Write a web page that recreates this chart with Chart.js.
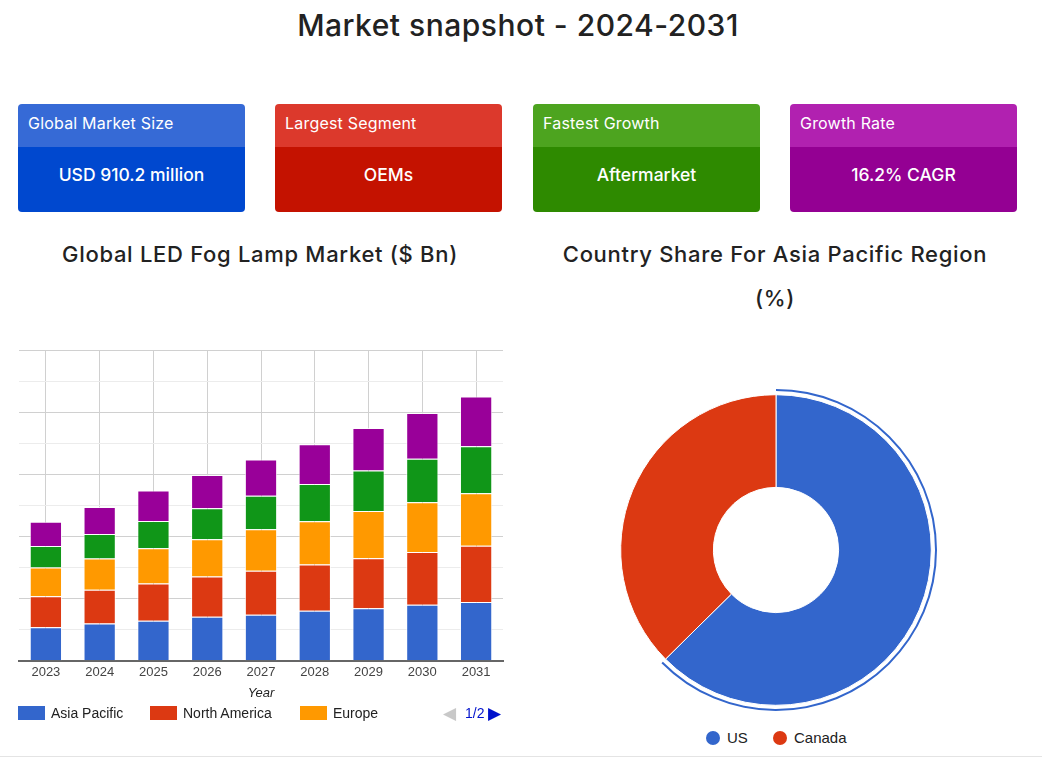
<!DOCTYPE html>
<html lang="en">
<head>
  <meta charset="UTF-8">
  <title>Market snapshot - 2024-2031</title>
  <script src="https://cdn.jsdelivr.net/npm/chart.js"></script>
  <style>
    body { margin: 0; width: 1042px; height: 760px; position: relative; background: #fff; font-family: Inter, "Open Sans", sans-serif; color: #222; overflow: hidden; }
    h1 { position: absolute; top: 7px; left: 0; width: 1036px; margin: 0; text-align: center; font-size: 30px; font-weight: 500; letter-spacing: 0.5px; }
    .card { position: absolute; top: 104px; width: 227px; height: 108px; border-radius: 4px; overflow: hidden; color: #fff; }
    .card .head { height: 43px; line-height: 38px; padding-left: 10px; font-size: 16px; letter-spacing: 0.2px; }
    .card .body { height: 65px; line-height: 56px; text-align: center; font-size: 17.5px; font-weight: 500; }
    .ctitle { position: absolute; text-align: center; font-size: 22px; font-weight: 500; line-height: 44px; letter-spacing: 0.7px; }
    .box { position: absolute; }
    .legend { position: absolute; font-family: "Liberation Sans", Arial, sans-serif; color: #222; }
    .legend span { position: absolute; white-space: nowrap; }
    .sw { position: absolute; width: 27px; height: 14px; }
    .dot { position: absolute; width: 14px; height: 14px; border-radius: 50%; }
    .footer { position: absolute; left: 0; top: 756px; width: 1042px; border-top: 1px solid #e4e4e4; }
  </style>
</head>
<body>
  <h1>Market snapshot - 2024-2031</h1>

  <div class="card" style="left:18px"><div class="head" style="background:#366ad6">Global Market Size</div><div class="body" style="background:#0048cf">USD 910.2 million</div></div>
  <div class="card" style="left:275px"><div class="head" style="background:#dc392c">Largest Segment</div><div class="body" style="background:#c41200">OEMs</div></div>
  <div class="card" style="left:533px"><div class="head" style="background:#4da41f">Fastest Growth</div><div class="body" style="background:#2e8a00">Aftermarket</div></div>
  <div class="card" style="left:790px"><div class="head" style="background:#b121b0">Growth Rate</div><div class="body" style="background:#940093">16.2% CAGR</div></div>

  <div class="ctitle" style="left:0; top:232px; width:520px">Global LED Fog Lamp Market ($ Bn)</div>
  <div class="ctitle" style="left:530px; top:232px; width:490px">Country Share For Asia Pacific Region<br>(%)</div>

  <div class="box" style="left:0; top:340px; width:515px; height:365px"><canvas id="barChart"></canvas></div>
  <div class="legend" id="barLegend" style="left:0; top:704px; width:515px; height:18px; font-size:14px"></div>

  <div class="box" style="left:520px; top:380px; width:512px; height:340px"><canvas id="pieChart"></canvas></div>
  <div class="legend" id="pieLegend" style="left:520px; top:729px; width:512px; height:18px; font-size:15px"></div>
  <div class="footer"></div>

  <script>
    // bar chart data
    const years = ['2023', '2024', '2025', '2026', '2027', '2028', '2029', '2030', '2031'];
    const asiaPacific = [0.108, 0.120, 0.129, 0.142, 0.148, 0.161, 0.169, 0.180, 0.189];
    const northAmerica = [0.100, 0.109, 0.120, 0.129, 0.142, 0.149, 0.161, 0.170, 0.181];
    const europe = [0.092, 0.100, 0.113, 0.120, 0.133, 0.139, 0.152, 0.160, 0.169];
    const latinAmerica = [0.069, 0.079, 0.088, 0.100, 0.108, 0.120, 0.130, 0.140, 0.151];
    const middleEastAfrica = [0.078, 0.087, 0.098, 0.107, 0.117, 0.128, 0.137, 0.147, 0.160];
    const regionNames = ['Asia Pacific', 'North America', 'Europe', 'Latin America', 'Middle East & Africa'];
    const regionColors = ['#3366cc', '#dc3912', '#ff9900', '#109618', '#990099'];

    // doughnut data
    const countries = ['US', 'Canada'];
    const countryShare = [62.6, 37.4];
    const countryColors = ['#3366cc', '#dc3912'];

    const tickFont = { family: '"Liberation Sans", Arial, sans-serif', size: 13 };

    const regionValues = [asiaPacific, northAmerica, europe, latinAmerica, middleEastAfrica];
    new Chart(document.getElementById('barChart'), {
      type: 'bar',
      data: {
        labels: years,
        datasets: regionValues.map((vals, i) => ({
          label: regionNames[i],
          data: vals,
          backgroundColor: regionColors[i],
          borderColor: 'rgba(255,255,255,0.75)',
          borderWidth: 1,
          barPercentage: 0.6,
          categoryPercentage: 1
        }))
      },
      options: {
        responsive: true,
        maintainAspectRatio: false,
        animation: false,
        events: [],
        layout: { padding: { left: 19, right: 12, top: 10, bottom: 0 } },
        plugins: { legend: { display: false }, tooltip: { enabled: false } },
        scales: {
          x: {
            stacked: true,
            grid: { offset: false, color: '#d0d0d0', drawTicks: false },
            border: { display: true, color: '#666', width: 2 },
            ticks: { color: '#444', font: { ...tickFont, lineHeight: 0.8 }, padding: 6.3 },
            title: { display: true, text: 'Year', color: '#222', font: { ...tickFont, style: 'italic' }, padding: { top: 1.6, bottom: 4 } }
          },
          y: {
            stacked: true,
            min: 0,
            max: 1.0,
            ticks: { display: false, stepSize: 0.1 },
            border: { display: false },
            grid: {
              drawTicks: false,
              color: ctx => (ctx.index % 2 === 0 ? '#d0d0d0' : '#ececec')
            }
          }
        }
      }
    });

    // HTML legend, first page of the paged legend
    const barLegend = document.getElementById('barLegend');
    const swatchX = [18, 150, 300];
    for (let i = 0; i < 3; i++) {
      barLegend.insertAdjacentHTML('beforeend',
        `<i class="sw" style="left:${swatchX[i]}px; top:2px; background:${regionColors[i]}"></i>` +
        `<span style="left:${swatchX[i] + 33}px; top:1px">${regionNames[i]}</span>`);
    }
    barLegend.insertAdjacentHTML('beforeend',
      '<span style="left:443px; top:-1px; font-size:17px; color:#c8c8c8">&#9664;</span>' +
      '<span style="left:465px; top:1px; color:#0011cc">1/2</span>' +
      '<span style="left:488px; top:-1px; font-size:17px; color:#0011cc">&#9654;</span>');

    new Chart(document.getElementById('pieChart'), {
      type: 'doughnut',
      data: {
        labels: countries,
        datasets: [
          { data: countryShare, backgroundColor: [countryColors[0], 'rgba(0,0,0,0)'], borderWidth: 0, weight: 2 },
          { data: countryShare, backgroundColor: ['rgba(0,0,0,0)', 'rgba(0,0,0,0)'], borderWidth: 0, weight: 3.7 },
          { data: countryShare, backgroundColor: countryColors, borderColor: '#fff', borderWidth: 1, weight: 92.6 }
        ]
      },
      options: {
        responsive: true,
        maintainAspectRatio: false,
        animation: false,
        events: [],
        cutout: '38.9%',
        layout: { padding: { top: 9, bottom: 9 } },
        plugins: { tooltip: { enabled: false }, legend: { display: false } }
      }
    });

    const pieLegend = document.getElementById('pieLegend');
    const dotX = [186, 253];
    countries.forEach((c, i) => {
      pieLegend.insertAdjacentHTML('beforeend',
        `<i class="dot" style="left:${dotX[i]}px; top:2px; background:${countryColors[i]}"></i>` +
        `<span style="left:${dotX[i] + 21}px; top:0px">${c}</span>`);
    });
  </script>
</body>
</html>
